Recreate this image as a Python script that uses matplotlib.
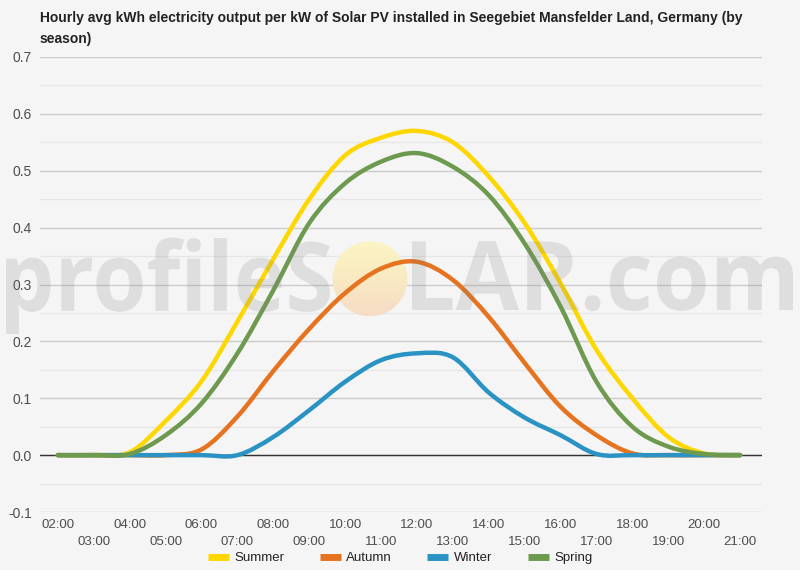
# Hourly avg kWh output per kW of solar PV, Seegebiet Mansfelder Land, by season

import numpy as np
import matplotlib.pyplot as plt
from matplotlib.path import Path
from matplotlib.patches import PathPatch, Ellipse
from matplotlib.lines import Line2D
from matplotlib.colors import LinearSegmentedColormap
from matplotlib.textpath import TextPath
from matplotlib.font_manager import FontProperties
from matplotlib.transforms import Affine2D

# data (hour of day -> kWh per kW)
hours = list(range(2, 22))
summer = [0, 0, 0.005, 0.06, 0.13, 0.235, 0.345, 0.45, 0.527, 0.558, 0.57, 0.55,
          0.49, 0.408, 0.302, 0.185, 0.10, 0.032, 0.003, 0]
autumn = [0, 0, 0, 0, 0.01, 0.068, 0.148, 0.222, 0.285, 0.328, 0.34, 0.308,
          0.243, 0.162, 0.085, 0.035, 0.003, 0, 0, 0]
winter = [0, 0, 0, 0, 0, 0, 0.032, 0.079, 0.129, 0.167, 0.179, 0.172,
          0.11, 0.066, 0.035, 0.002, 0, 0, 0, 0]
spring = [0, 0, 0.002, 0.035, 0.091, 0.179, 0.29, 0.408, 0.478, 0.516, 0.531, 0.507,
          0.457, 0.372, 0.261, 0.129, 0.05, 0.015, 0.002, 0]

series_names = ['Summer', 'Autumn', 'Winter', 'Spring']
series_values = [summer, autumn, winter, spring]
series_colors = ['#ffd700', '#e6731f', '#2a93c3', '#6e9a50']

hour_labels = ['{:02d}:00'.format(h) for h in hours]
title = ('Hourly avg kWh electricity output per kW of Solar PV installed in '
         'Seegebiet Mansfelder Land, Germany (by\nseason)')

bg = '#f5f5f5'
plt.rcParams['font.family'] = ['Liberation Sans', 'DejaVu Sans']


def smooth_path(x, y):
    # smooth curve through the points (like the "function" curve type)
    pts = np.column_stack([x, y]).astype(float)
    n = len(pts)
    verts = [pts[0]]
    codes = [Path.MOVETO]
    for i in range(n - 1):
        p0 = pts[max(i - 1, 0)]
        p1 = pts[i]
        p2 = pts[i + 1]
        p3 = pts[min(i + 2, n - 1)]
        verts += [p1 + (p2 - p0) / 6, p2 - (p3 - p1) / 6, p2]
        codes += [Path.CURVE4] * 3
    return Path(verts, codes)


def watermark(fig, text, x0, x1, base):
    # text squeezed to span x0..x1 pixels, baseline at `base` px from top
    tp = TextPath((0, 0), text, size=96, prop=FontProperties(family='Open Sans', weight='bold'))
    ext = tp.get_extents()
    sx = (x1 - x0) / ext.width
    tr = (Affine2D().translate(-ext.x0, 0).scale(sx, 1).translate(x0, 570 - base)
          .scale(1 / 800, 1 / 570) + fig.transFigure)
    fig.patches.append(PathPatch(tp, transform=tr, facecolor='#808080', edgecolor='none',
                                 alpha=0.19, zorder=5, figure=fig))


fig = plt.figure(figsize=(8, 5.7), dpi=100, facecolor=bg)
ax = fig.add_axes([40 / 800, 1 - 512 / 570, 722 / 800, 455 / 570])
ax.set_facecolor(bg)
ax.set_xlim(1.5, 21.61)
ax.set_ylim(-0.1, 0.7)

# grid
ax.set_yticks(np.arange(-0.1, 0.71, 0.1))
ax.set_yticklabels(['{:.1f}'.format(v) for v in np.arange(-0.1, 0.71, 0.1)])
ax.set_yticks(np.arange(-0.05, 0.7, 0.1), minor=True)
ax.grid(axis='y', which='major', color='#cccccc', lw=1)
ax.grid(axis='y', which='minor', color='#e6e6e6', lw=1)
ax.axhline(0, color='#333333', lw=1, zorder=1.2)
ax.set_axisbelow(True)
for s in ax.spines.values():
    s.set_visible(False)

# two rows of hour labels
ax.set_xticks(hours[::2])
ax.set_xticklabels(hour_labels[::2])
ax.set_xticks(hours[1::2], minor=True)
ax.set_xticklabels(hour_labels[1::2], minor=True)
ax.tick_params(axis='x', which='major', length=0, pad=5, labelsize=9.5, labelcolor='#4d4d4d')
ax.tick_params(axis='x', which='minor', length=0, pad=17.5, labelsize=9.5, labelcolor='#4d4d4d')
ax.tick_params(axis='y', which='both', length=0, pad=6, labelsize=10, labelcolor='#4d4d4d')

# watermark sun
cx, cy, rx, ry = 10.69, 0.310, 37.5 / 35.9, 37.5 / 568.6
sun = Ellipse((cx, cy), 2 * rx, 2 * ry, facecolor='none', edgecolor='none')
ax.add_patch(sun)
sun_cmap = LinearSegmentedColormap.from_list('sun', ['#fbf5c4', '#f9eac2', '#f6dcc6'])
grad = np.linspace(0, 1, 100).reshape(-1, 1)
im = ax.imshow(grad, cmap=sun_cmap, extent=[cx - rx, cx + rx, cy - ry, cy + ry],
               aspect='auto', origin='upper', zorder=1.1)
im.set_clip_path(sun)

# lines
for name, vals, col in zip(series_names, series_values, series_colors):
    ax.add_patch(PathPatch(smooth_path(hours, vals), facecolor='none', edgecolor=col,
                           lw=3.2, capstyle='round', joinstyle='round', zorder=3))

# watermark text
watermark(fig, 'profileS', 6, 330, 311)
watermark(fig, 'LAR.com', 412, 793, 310)

fig.text(40 / 800, 1 - 11 / 570, title, ha='left', va='top', fontsize=10,
         fontweight='bold', color='#222222', linespacing=1.6)

handles = [Line2D([], [], color=c, lw=5, solid_capstyle='butt') for c in series_colors]
fig.legend(handles, series_names, loc='center', bbox_to_anchor=(0.5, 1 - 558 / 570),
           ncol=4, frameon=False, fontsize=9.5, handlelength=1.6, handletextpad=0.4,
           columnspacing=2.7, labelcolor='#222222')

fig.savefig('out.png', dpi=100, facecolor=bg)
